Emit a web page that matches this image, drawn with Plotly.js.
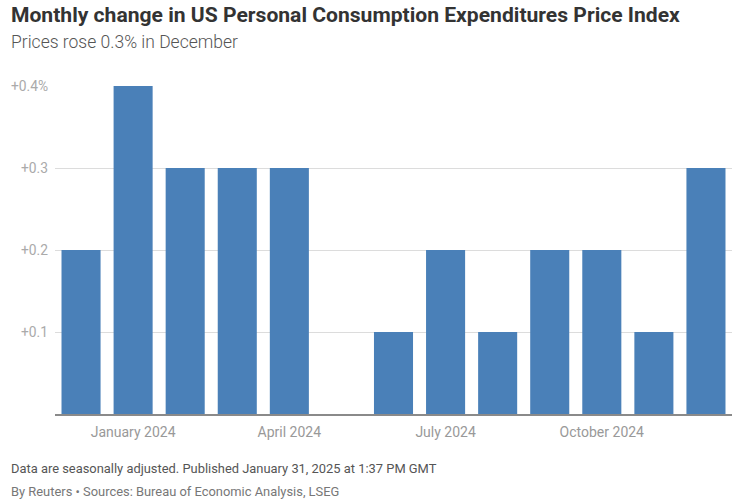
<!DOCTYPE html>
<html>
<head>
<meta charset="utf-8">
<script src="https://cdn.plot.ly/plotly-3.0.1.min.js"></script>
<style>html,body{margin:0;padding:0;background:#fff;}#chart{width:743px;height:502px;}</style>
</head>
<body>
<div id="chart"></div>
<script>
const months = ["Dec 2023","Jan 2024","Feb 2024","Mar 2024","Apr 2024","May 2024","Jun 2024","Jul 2024","Aug 2024","Sep 2024","Oct 2024","Nov 2024","Dec 2024"];
const changes = [0.2, 0.4, 0.3, 0.3, 0.3, 0.0, 0.1, 0.2, 0.1, 0.2, 0.2, 0.1, 0.3];
const xTickVals = ["Jan 2024","Apr 2024","Jul 2024","Oct 2024"];
const xTickText = ["January 2024","April 2024","July 2024","October 2024"];
const yTickVals = [0.1, 0.2, 0.3, 0.4];
const yTickText = ["+0.1","+0.2","+0.3","+0.4%"];

const font = "Roboto, 'Open Sans', sans-serif";
const data = [{
  type: "bar",
  x: months,
  y: changes,
  marker: {color: "#4a80b8"},
  hoverinfo: "x+y"
}];
const lx = -46/677;
const layout = {
  width: 743, height: 502,
  margin: {l: 55, r: 11, t: 86, b: 88},
  paper_bgcolor: "#fff", plot_bgcolor: "#fff",
  bargap: 0.25,
  showlegend: false,
  font: {family: font, color: "#999"},
  xaxis: {
    type: "category",
    tickmode: "array", tickvals: xTickVals, ticktext: xTickText,
    showgrid: false, ticks: "",
    showline: true, linecolor: "#8a8a8a", linewidth: 2,
    tickfont: {size: 14, color: "#999"},
    ticklabelstandoff: 4,
    range: [-0.5, 12.5], fixedrange: true
  },
  yaxis: {
    range: [0, 0.4],
    tickmode: "array", tickvals: yTickVals, ticktext: yTickText,
    showgrid: true, gridcolor: "#dcdcdc", gridwidth: 1,
    zeroline: false, showline: false, ticks: "",
    tickfont: {size: 13.8, color: "#aaa"},
    ticklabelstandoff: 6,
    fixedrange: true
  },
  annotations: [
    {xref: "paper", yref: "paper", x: lx, y: 1 + 72/328, xanchor: "left", yanchor: "middle",
     text: "<b>Monthly change in US Personal Consumption Expenditures Price Index</b>", showarrow: false,
     font: {family: "Roboto, sans-serif", size: 21.1, color: "#333"}},
    {xref: "paper", yref: "paper", x: lx, y: 1 + 44/328, xanchor: "left", yanchor: "middle",
     text: "Prices rose 0.3% in December", showarrow: false,
     font: {family: font, size: 17.5, color: "#555", weight: 300}},
    {xref: "paper", yref: "paper", x: lx, y: -54/328, xanchor: "left", yanchor: "middle",
     text: "Data are seasonally adjusted. Published January 31, 2025 at 1:37 PM GMT", showarrow: false,
     font: {family: font, size: 12.9, color: "#555"}},
    {xref: "paper", yref: "paper", x: lx, y: -77/328, xanchor: "left", yanchor: "middle",
     text: "By Reuters • Sources: Bureau of Economic Analysis, LSEG", showarrow: false,
     font: {family: font, size: 12.9, color: "#777"}}
  ]
};
Plotly.newPlot("chart", data, layout, {displayModeBar: false});
</script>
</body>
</html>
